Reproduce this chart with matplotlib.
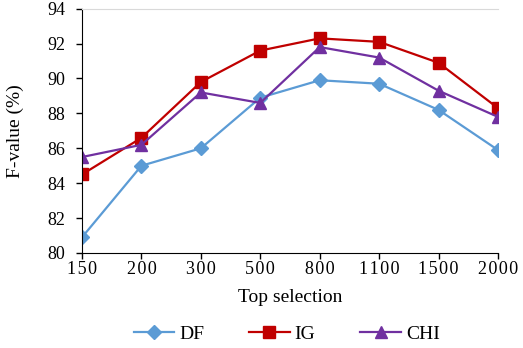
import matplotlib
matplotlib.use("Agg")
from matplotlib import pyplot as plt

# data
categories = ["150", "200", "300", "500", "800", "1100", "1500", "2000"]
df_values = [80.9, 85.0, 86.0, 88.9, 89.9, 89.7, 88.2, 85.9]
ig_values = [84.5, 86.6, 89.8, 91.6, 92.3, 92.1, 90.9, 88.3]
chi_values = [85.5, 86.2, 89.2, 88.6, 91.8, 91.2, 89.3, 87.8]

plt.rcParams["font.family"] = ["Liberation Serif", "DejaVu Serif"]
plt.rcParams["font.size"] = 13

fig = plt.figure(figsize=(5.23, 3.48), dpi=100)
ax = fig.add_axes([82 / 523, 1 - 253 / 348, (498 - 82) / 523, (253 - 8.7) / 348])

x = list(range(len(categories)))
ax.plot(x, df_values, color="#5B9BD5", marker="D", markersize=7, lw=1.6, label="DF")
ax.plot(x, ig_values, color="#C00000", marker="s", markersize=8.5, lw=1.6, label="IG")
ax.plot(x, chi_values, color="#7030A0", marker="^", markersize=9, lw=1.6, label="CHI")

ax.set_xlim(0, len(categories) - 1)
ax.set_ylim(80, 94)
ax.set_yticks(range(80, 95, 2))
ax.set_xticks(x)
# slightly spaced-out digits like the original
ax.set_xticklabels(["\u200a".join(c) for c in categories], fontsize=13)
ax.tick_params(axis="y", labelsize=13, length=4, width=1, direction="out", pad=8)
ax.tick_params(axis="x", length=4, width=1, direction="out", pad=2)

ax.spines["right"].set_visible(False)
ax.spines["top"].set_color("#D9D9D9")
ax.spines["top"].set_linewidth(0.8)

ax.set_xlabel("Top selection", fontsize=14, labelpad=8)
ax.set_ylabel("F-value (%)", fontsize=14, labelpad=17)

fig.legend(loc="lower center", bbox_to_anchor=(0.548, -0.035), ncol=3, frameon=False,
           fontsize=14, handlelength=2.1, handletextpad=0.25, columnspacing=2.3)

plt.savefig("out.png", dpi=100)
